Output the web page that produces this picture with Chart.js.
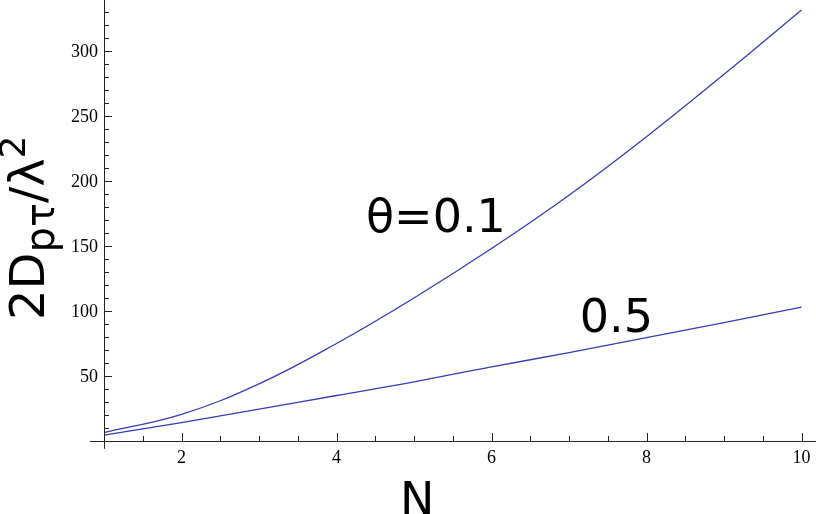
<!DOCTYPE html>
<html lang="en">
<head>
    <meta charset="UTF-8">
    <title>2Dpτ/λ² vs N</title>
    <script src="https://cdn.jsdelivr.net/npm/chart.js"></script>
    <style>
        * { margin: 0; padding: 0; box-sizing: border-box; }
        body { background: #fff; width: 816px; height: 514px; overflow: hidden; }
        .chart-container { position: relative; width: 816px; height: 514px; }
    </style>
</head>
<body>
    <div class="chart-container">
        <canvas id="plot"></canvas>
    </div>

    <script>
        // values
        const nValues = [1, 2, 3, 4, 5, 6, 7, 8, 9, 10];
        const theta01 = [6.5, 20.5, 44, 75, 110, 148, 189, 234, 282, 331.5];
        const theta05 = [4.6, 14.2, 24.5, 35, 45.5, 57, 68, 79.5, 91, 103];
        const xTickLabels = [2, 4, 6, 8, 10];
        const yTickLabels = [50, 100, 150, 200, 250, 300];
        const curveLabels = ['θ=0.1', '0.5'];

        const lineColor = '#3a3ab8';
        const axisColor = '#222';

        const toPoints = ys => nValues.map((n, i) => ({ x: n, y: ys[i] }));

        // Mathematica-like axes: crossing at (1, 0), ticks pointing inward
        const axesPlugin = {
            id: 'axes',
            afterDatasetsDraw(chart) {
                const { ctx, scales: { x, y } } = chart;
                const x0 = x.getPixelForValue(1);
                const y0 = y.getPixelForValue(0);
                ctx.save();
                ctx.strokeStyle = axisColor;
                ctx.lineWidth = 1;

                ctx.beginPath();
                ctx.moveTo(x.getPixelForValue(0.82), y0 + 0.5);
                ctx.lineTo(chart.width, y0 + 0.5);
                ctx.moveTo(x0 + 0.5, 0);
                ctx.lineTo(x0 + 0.5, y.getPixelForValue(-6));
                ctx.stroke();

                // x ticks
                ctx.beginPath();
                for (let v = 1.5; v <= 10.01; v += 0.5) {
                    const px = Math.round(x.getPixelForValue(v)) + 0.5;
                    const len = (v % 2 === 0) ? 8 : 5;
                    ctx.moveTo(px, y0);
                    ctx.lineTo(px, y0 - len);
                }
                // y ticks
                for (let v = 10; v <= 330; v += 10) {
                    const py = Math.round(y.getPixelForValue(v)) + 0.5;
                    const len = (v % 50 === 0) ? 8 : 5;
                    ctx.moveTo(x0, py);
                    ctx.lineTo(x0 + len, py);
                }
                ctx.stroke();

                ctx.fillStyle = '#000';
                ctx.font = '18px "Liberation Serif", serif';
                ctx.textBaseline = 'alphabetic';
                ctx.textAlign = 'center';
                xTickLabels.forEach(v => {
                    ctx.fillText(String(v), x.getPixelForValue(v), y0 + 22);
                });
                ctx.textAlign = 'right';
                yTickLabels.forEach(v => {
                    ctx.fillText(String(v), x0 - 6, y.getPixelForValue(v) + 6);
                });

                // curve labels
                ctx.font = '46px "DejaVu Sans", sans-serif';
                ctx.textAlign = 'left';
                ctx.fillText(curveLabels[0], x.getPixelForValue(4.38), y.getPixelForValue(160.8));
                ctx.fillText(curveLabels[1], x.getPixelForValue(7.14), y.getPixelForValue(83.8));

                // x title
                ctx.textAlign = 'center';
                ctx.fillText('N', x.getPixelForValue(5.04), chart.height + 1);

                // y title: 2D_{pτ}/λ^2, rotated
                ctx.translate(44, 320);
                ctx.rotate(-Math.PI / 2);
                ctx.textAlign = 'left';
                let cx = 0;
                const seg = (text, size, dy) => {
                    ctx.font = size + 'px "DejaVu Sans", sans-serif';
                    ctx.fillText(text, cx, dy);
                    cx += ctx.measureText(text).width;
                };
                seg('2D', 48, 0);
                seg('pτ', 40, 10);
                seg('/λ', 48, 0);
                seg('2', 36, -19);
                ctx.restore();
            }
        };

        new Chart(document.getElementById('plot'), {
            type: 'line',
            data: {
                datasets: [
                    { label: 'θ=0.1', data: toPoints(theta01) },
                    { label: 'θ=0.5', data: toPoints(theta05) }
                ].map(d => Object.assign(d, {
                    borderColor: lineColor,
                    borderWidth: 1.3,
                    pointRadius: 0,
                    fill: false,
                    tension: 0.4
                }))
            },
            options: {
                responsive: true,
                maintainAspectRatio: false,
                animation: false,
                layout: { padding: 0 },
                plugins: {
                    legend: { display: false },
                    tooltip: { enabled: false }
                },
                scales: {
                    x: { type: 'linear', display: false, min: -0.342, max: 10.187 },
                    y: { type: 'linear', display: false, min: -56.15, max: 339.2 }
                }
            },
            plugins: [axesPlugin]
        });
    </script>
</body>
</html>
